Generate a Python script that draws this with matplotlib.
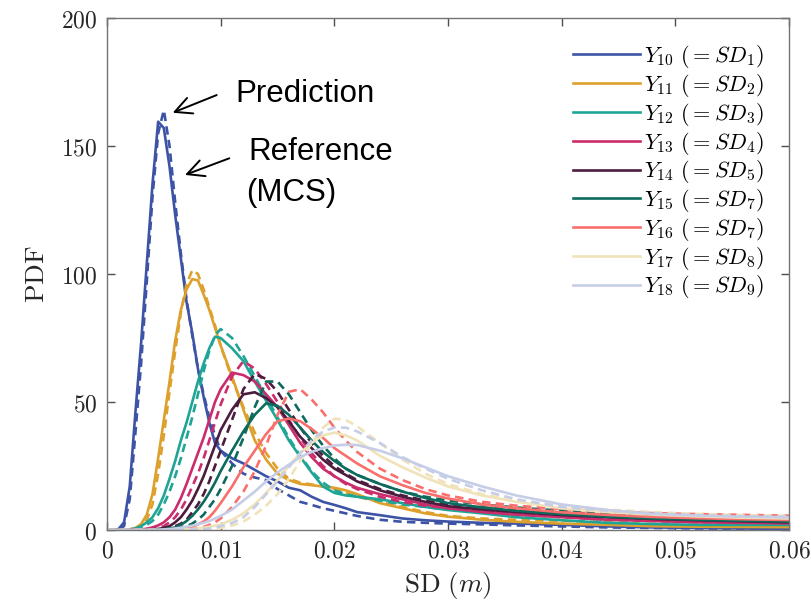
import numpy as np
import matplotlib
matplotlib.use("Agg")
import matplotlib.pyplot as plt
from matplotlib.ticker import FuncFormatter

plt.rcParams['mathtext.fontset'] = 'cm'
plt.rcParams['font.family'] = ['DejaVu Serif']

# shared SD grid (m)
sd = [0, 0.001, 0.0015, 0.002, 0.0025, 0.003, 0.0035, 0.004, 0.0045, 0.005,
      0.0055, 0.006, 0.0065, 0.007, 0.0075, 0.008, 0.0085, 0.009, 0.0095, 0.010,
      0.011, 0.012, 0.013, 0.014, 0.015, 0.016, 0.017, 0.018, 0.019, 0.020,
      0.021, 0.022, 0.024, 0.026, 0.028, 0.030, 0.033, 0.036, 0.040, 0.044,
      0.048, 0.052, 0.056, 0.060]

labels = [r'$Y_{10}\ (= SD_{1})$', r'$Y_{11}\ (= SD_{2})$', r'$Y_{12}\ (= SD_{3})$',
          r'$Y_{13}\ (= SD_{4})$', r'$Y_{14}\ (= SD_{5})$', r'$Y_{15}\ (= SD_{7})$',
          r'$Y_{16}\ (= SD_{7})$', r'$Y_{17}\ (= SD_{8})$', r'$Y_{18}\ (= SD_{9})$']

colors = ['#3d54a6', '#dea02c', '#1fa596', '#cb2c6c', '#4c1c3e',
          '#0d6b5e', '#f86f6c', '#f1e3b9', '#c6cde6']

# Reference (MCS) PDFs - solid
ref_y10 = [0, 0.3, 3, 17, 46, 73, 104, 135, 159.5, 157, 142, 123, 106, 89, 77, 63, 52, 42, 34, 31,
           28, 26, 23.5, 21, 19, 16.5, 15.5, 13, 11, 9.8, 8.5, 7, 5.8, 4.5, 3.8, 3.3, 2.8, 2.5, 2, 1.4, 1, 0.8, 0.6, 0.4]
ref_y11 = [0, 0, 0.05, 0.3, 0.8, 2.3, 6, 14, 28, 43, 58, 74, 86, 94, 98, 97.5, 92, 86, 79, 72,
           60, 47, 35, 27.5, 22, 19.5, 18, 17.5, 17, 16.5, 15.5, 14, 10.5, 8.5, 6.5, 5.2, 4, 3.2, 2.5, 2, 1.5, 1.3, 1.2, 1.1]
ref_y12 = [0, 0, 0, 0.2, 0.6, 1.5, 3, 5, 8.5, 13.5, 20, 27, 35, 42, 50, 58, 65, 71, 75.5, 75,
           71, 66, 58, 50.5, 43, 35, 28.6, 22.5, 17, 14.5, 13.5, 13, 12, 10.5, 9, 7.8, 6.5, 5, 3.8, 2.8, 2.3, 2, 2, 2]
ref_y13 = [0, 0, 0, 0, 0.1, 0.2, 0.5, 1, 1.8, 3, 5, 8, 12.5, 18, 24, 30, 36, 43, 50, 55,
           61.5, 60.5, 58, 53, 48, 41, 34, 28.5, 24, 21, 18.5, 16.5, 14, 12, 10, 8.5, 7, 6, 5, 4, 3.5, 3, 2.8, 2.6]
ref_y14 = [0, 0, 0, 0, 0, 0, 0.1, 0.2, 0.4, 0.8, 1.5, 3, 5, 8, 11.5, 16, 21, 27, 33, 39,
           47, 53, 53.8, 51.5, 48, 42.5, 36.4, 32, 27.5, 24, 21.5, 19, 15.5, 13, 11, 9.3, 8, 7, 5.8, 5, 4.3, 3.8, 3.4, 3]
ref_y15 = [0, 0, 0, 0, 0, 0, 0, 0.1, 0.2, 0.3, 0.6, 1, 2, 3.5, 5.5, 8, 11, 14.5, 18.5, 23,
           31, 38.5, 45, 49.5, 48.5, 45, 40, 35, 30.5, 27, 24, 21.5, 18, 15, 12.5, 10.5, 8.8, 7.5, 6.2, 5.2, 4.5, 4, 3.6, 3.3]
ref_y16 = [0, 0, 0, 0, 0, 0, 0, 0, 0, 0.1, 0.2, 0.3, 0.5, 0.8, 1.3, 2.2, 3.3, 5, 7.5, 10.5,
           17, 24.5, 31, 37.5, 42.5, 43.5, 42.5, 39.5, 36, 32, 29, 26, 21, 17.5, 14.5, 12.3, 10, 8.5, 6.9, 5.9, 5.1, 4.6, 4.2, 3.9]
ref_y17 = [0, 0, 0, 0, 0, 0, 0, 0, 0, 0, 0.1, 0.1, 0.2, 0.3, 0.4, 0.6, 0.9, 1.3, 1.7, 2.2,
           4, 6.5, 10, 14.5, 19.5, 25, 30, 34, 37, 38, 37, 35, 29, 24.5, 20.5, 17, 13.5, 11, 8.5, 7, 6, 5.3, 4.8, 4.5]
ref_y18 = [0, 0, 0, 0, 0, 0, 0, 0, 0, 0.2, 0.4, 0.6, 0.9, 1.3, 1.7, 2.2, 2.8, 3.5, 4.5, 5.5,
           8, 11.5, 15, 19, 22.5, 25.5, 28.5, 30.5, 32, 33, 33.3, 33.2, 31, 28, 24.5, 21, 17, 13.5, 10, 7.8, 6.3, 5.6, 5.2, 5]

# Predicted PDFs - dashed
pred_y10 = [0, 0.1, 1.5, 12, 38, 65, 97, 130, 155, 164, 150, 128, 108, 90, 76, 63, 53, 44, 37, 31,
            26, 22, 20.5, 19.5, 16, 13.5, 11, 9.8, 8.5, 7.5, 6.5, 5.5, 4, 3.2, 2.8, 2.5, 2.2, 1.8, 1.4, 1, 0.8, 0.6, 0.5, 0.4]
pred_y11 = [0, 0, 0, 0.1, 0.5, 1.5, 4, 10, 22, 37, 54, 70, 85, 96, 101.5, 100, 94, 87, 80, 72,
            59, 48, 38, 30, 24, 20, 18.5, 17.8, 17, 16, 14.5, 13, 11, 9, 7, 5.5, 4.5, 4, 3.6, 3, 2.3, 1.8, 1.5, 1.3]
pred_y12 = [0, 0, 0, 0.1, 0.4, 1, 2, 3.5, 6, 10, 15, 21, 28, 36, 44, 53, 62, 70, 76, 78.5,
            75, 68, 60, 52, 44, 36, 29, 23, 18.5, 15.5, 14, 13, 11.5, 10, 9, 8, 7, 6, 5, 4, 3.5, 3, 2.8, 2.6]
pred_y13 = [0, 0, 0, 0, 0, 0.1, 0.3, 0.5, 1, 1.5, 3, 5, 8, 12, 17, 22, 28, 35, 42, 49,
            60, 66, 63, 57, 50, 43, 36, 30, 25, 21, 18, 16, 13, 11, 9.5, 8.5, 7.5, 6.5, 5.8, 5, 4.5, 4, 3.8, 3.6]
pred_y14 = [0, 0, 0, 0, 0, 0, 0, 0.1, 0.2, 0.3, 0.8, 1.5, 2.5, 4, 7, 10, 14, 19, 25, 31,
            43, 55, 61, 59, 54, 47, 40, 34, 29, 25, 22, 19.5, 16, 13.5, 11.5, 10, 8.8, 7.8, 6.8, 6, 5.3, 4.8, 4.3, 4]
pred_y15 = [0, 0, 0, 0, 0, 0, 0, 0, 0, 0.1, 0.3, 0.6, 1, 1.5, 2.5, 4, 6, 9, 12, 16,
            25, 36, 48, 58, 58, 53, 46, 39, 33, 28, 24, 21.5, 18, 15, 13, 11.5, 10, 8.8, 7.5, 6.5, 6, 5.5, 5, 4.7]
pred_y16 = [0, 0, 0, 0, 0, 0, 0, 0, 0, 0, 0, 0, 0.1, 0.2, 0.4, 0.8, 1.2, 2, 3, 4.5,
            9, 15, 23, 33, 45, 54, 55, 51, 46, 40, 35, 30.5, 24, 19.5, 16, 13.5, 11, 9.5, 8.2, 7.3, 6.6, 6.2, 5.9, 5.6]
pred_y17 = [0, 0, 0, 0, 0, 0, 0, 0, 0, 0, 0, 0, 0, 0, 0.1, 0.1, 0.2, 0.3, 0.5, 0.8,
            1.7, 3.3, 6, 9.5, 14, 20, 27, 34, 40, 43.5, 43, 40.5, 34, 27.5, 22, 18, 14, 11.5, 9.5, 8, 7, 6.3, 5.8, 5.5]
pred_y18 = [0, 0, 0, 0, 0, 0, 0, 0, 0, 0, 0, 0, 0, 0.1, 0.15, 0.2, 0.4, 0.6, 1, 1.5,
            2.7, 5, 9, 14, 19, 24.5, 30, 35, 38.5, 40, 40, 38.5, 34, 28.5, 24, 20, 15.5, 12, 9, 7.5, 6.5, 5.8, 5.4, 5.1]

refs = [ref_y10, ref_y11, ref_y12, ref_y13, ref_y14, ref_y15, ref_y16, ref_y17, ref_y18]
preds = [pred_y10, pred_y11, pred_y12, pred_y13, pred_y14, pred_y15, pred_y16, pred_y17, pred_y18]

x_ticks = [0, 0.01, 0.02, 0.03, 0.04, 0.05, 0.06]
y_ticks = [0, 50, 100, 150, 200]

fig = plt.figure(figsize=(8.11, 6.10), dpi=100)
ax = fig.add_axes([107/811, 80/610, 682/811, 512/610])

lw = 1.9
handles = []
for r, p, c, lab in zip(refs, preds, colors, labels):
    h, = ax.plot(sd, r, color=c, lw=lw, solid_joinstyle='round', label=lab)
    ax.plot(sd, p, color=c, lw=lw, ls=(0, (3.2, 2.0)))
    handles.append(h)

ax.set_xlim(0, 0.06)
ax.set_ylim(0, 200)
ax.set_xticks(x_ticks)
ax.set_yticks(y_ticks)
ax.xaxis.set_major_formatter(FuncFormatter(lambda v, p: f'${v:g}$'))
ax.yaxis.set_major_formatter(FuncFormatter(lambda v, p: f'${v:g}$'))
ax.tick_params(direction='in', top=True, right=True, length=6, width=1,
               color='0.3', labelsize=17, labelcolor='0.15', pad=7)
for s in ax.spines.values():
    s.set_color('0.45')
    s.set_linewidth(1.0)

ax.set_xlabel(r'$\mathrm{SD}\ (m)$', fontsize=19.5, color='0.15', labelpad=5)
ax.set_ylabel(r'$\mathrm{PDF}$', fontsize=19.5, color='0.15', labelpad=8)

leg = ax.legend(handles=handles, loc='upper right', bbox_to_anchor=(0.976, 0.968),
                frameon=False, fontsize=16, handlelength=3.0, handletextpad=0.2,
                labelspacing=0.08, borderaxespad=0)

ann_font = dict(family='Liberation Sans', fontsize=22.5, color='black')
ax.text(0.01126, 167.3, 'Prediction', va='baseline', ha='left', **ann_font)
ax.text(0.0124, 144.5, 'Reference', va='baseline', ha='left', **ann_font)
ax.text(0.01226, 128.7, '(MCS)', va='baseline', ha='left', **ann_font)
arrow = dict(arrowstyle='->,head_length=0.6,head_width=0.3', lw=1.4, color='black',
             shrinkA=0, shrinkB=0, mutation_scale=20)
ax.annotate('', xy=(0.00578, 163.0), xytext=(0.00965, 169.9), arrowprops=arrow)
ax.annotate('', xy=(0.00686, 138.7), xytext=(0.01076, 145.2), arrowprops=arrow)

fig.savefig('out.png', dpi=100)
